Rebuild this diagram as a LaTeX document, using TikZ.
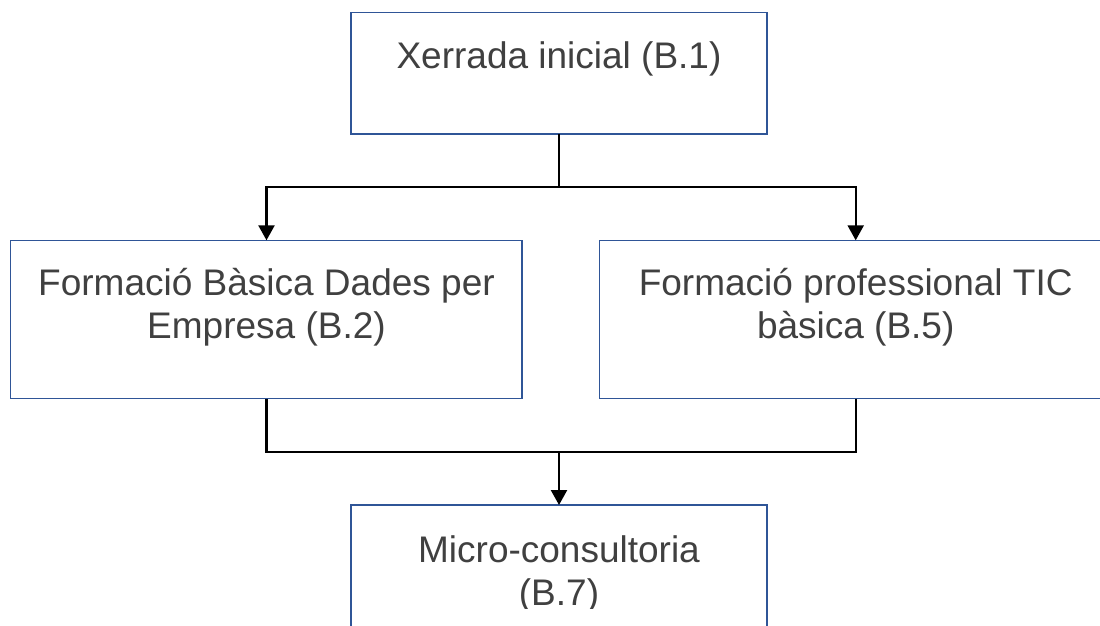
\documentclass[tikz,border=0pt]{standalone}
\usepackage{fontspec}
\setmainfont{Liberation Sans}
\usetikzlibrary{arrows.meta}
\definecolor{boxblue}{HTML}{2F5597}
\definecolor{txtgray}{HTML}{404040}
\tikzset{
  box/.style={draw=boxblue, line width=1.5pt, fill=white},
  lbl/.style={text=txtgray, font=\fontsize{37}{43}\selectfont, align=center, anchor=base, inner sep=0pt},
  conn/.style={draw=black, line width=2.3pt},
  arr/.style={conn, -{Triangle[width=16pt,length=15pt]}}
}
\begin{document}
\begin{tikzpicture}[x=1pt,y=-1pt]
\useasboundingbox (0,0) rectangle (1100,625);
\fill[white] (0,0) rectangle (1100,625);
\clip (0,0) rectangle (1100,625);
% boxes
\draw[box] (351,12.3) rectangle (767,134);
\draw[box] (10.7,240.3) rectangle (522,398.7);
\draw[box] (599.3,240.3) rectangle (1112,398.7);
\draw[box] (351,505) rectangle (767,640);
\coordinate (b1) at (559,134);
\coordinate (b2top) at (266.5,240.3);
\coordinate (b2bot) at (266.5,398.7);
\coordinate (b5top) at (855.7,240.3);
\coordinate (b5bot) at (855.7,398.7);
\coordinate (b7top) at (559,505);
\coordinate (j1) at (559,187.3);
\coordinate (j2) at (559,451.7);
% texts (base anchor = baseline of last line)
\node[lbl] (t1) at (559,68) {Xerrada inicial (B.1)};
\node[lbl] (t2) at (266.5,338) {Formació Bàsica Dades per\\Empresa (B.2)};
\node[lbl] (t5) at (855.7,338) {Formació professional TIC\\bàsica (B.5)};
\begin{scope}
\clip (0,0) rectangle (1100,608);
\node[lbl] (t7) at (559,605) {Micro-consultoria\\(B.7)};
\end{scope}
% connectors
\draw[conn] (b1) -- (j1);
\draw[arr] (j1) -| (b2top);
\draw[arr] (j1) -| (b5top);
\draw[conn] (b2bot) |- (j2);
\draw[conn] (b5bot) |- (j2);
\draw[arr] (j2) -- (b7top);
\end{tikzpicture}
\end{document}
